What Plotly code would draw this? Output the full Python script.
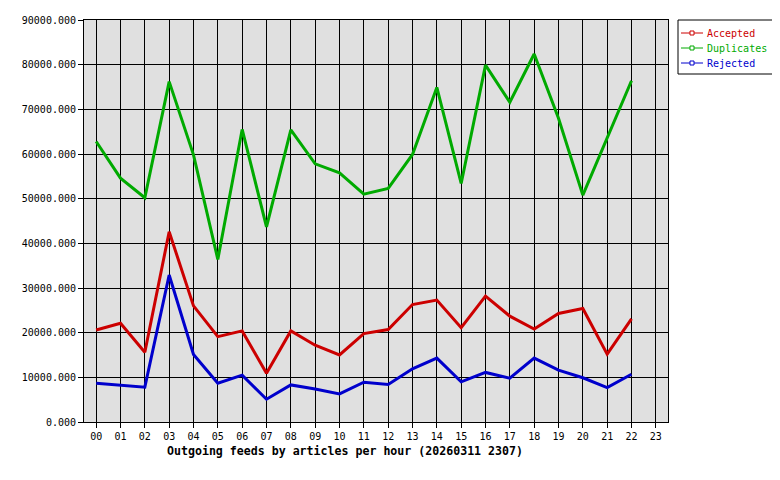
import plotly.graph_objects as go

hours = ["%02d" % h for h in range(24)]

accepted = [20600, 22100, 15600, 42600, 26000, 19100, 20400, 10900, 20400, 17200,
            15000, 19800, 20700, 26300, 27300, 21100, 28200, 23700, 20800, 24300,
            25400, 15200, 23100]
duplicates = [62800, 54600, 50200, 76200, 59800, 36400, 65500, 43700, 65400, 57800,
              55800, 51000, 52300, 59900, 74900, 53400, 79900, 71600, 82400, 68000,
              50800, 63700, 76400]
rejected = [8700, 8300, 7800, 32900, 15100, 8700, 10500, 5100, 8300, 7400,
            6300, 8900, 8400, 11900, 14300, 9000, 11100, 9800, 14300, 11600,
            9900, 7700, 10700]

series = [
    ("Accepted", accepted, "#cc0000"),
    ("Duplicates", duplicates, "#00aa00"),
    ("Rejected", rejected, "#0000cc"),
]

MONO = "DejaVu Sans Mono"
OFF = 8  # default body margin of the html page
W, H = 780 - OFF, 480 - OFF
# plot area in page pixels: x 84..668, y 20..422
L, T = 84 - OFF, 20 - OFF
PW, PH = 584, 402
R, B = W - L - PW, H - T - PH


def px(x, y):
    # page pixel position -> paper coords
    return (x - OFF - L) / PW, (T + PH - (y - OFF)) / PH


fig = go.Figure()
for name, vals, color in series:
    fig.add_trace(go.Scatter(x=hours[:len(vals)], y=vals, mode="lines", name=name,
                             line=dict(color=color, width=3),
                             showlegend=False, hoverinfo="x+y"))

# hand-drawn legend box
shapes = []
annotations = []
x0, y0 = px(678, 20)
x1, y1 = px(773, 74)
shapes.append(dict(type="rect", xref="paper", yref="paper", x0=x0, y0=y0, x1=x1, y1=y1,
                   line=dict(color="black", width=1), fillcolor="white"))
for i, (name, vals, color) in enumerate(series):
    yy = 33 + 15 * i
    a, b = px(681, yy)
    c, _ = px(703, yy)
    shapes.append(dict(type="line", xref="paper", yref="paper", x0=a, y0=b, x1=c, y1=b,
                       line=dict(color=color, width=1)))
    m0, n0 = px(690, yy - 2)
    m1, n1 = px(694, yy + 2)
    shapes.append(dict(type="rect", xref="paper", yref="paper", x0=m0, y0=n0, x1=m1, y1=n1,
                       line=dict(color=color, width=1), fillcolor="white"))
    tx, ty = px(705, yy)
    annotations.append(dict(text=name, xref="paper", yref="paper", x=tx, y=ty,
                            xanchor="left", yanchor="middle", showarrow=False,
                            font=dict(family=MONO, size=10, color=color)))

tx, ty = px(165, 451)
annotations.append(dict(text="<b>Outgoing feeds by articles per hour (20260311 2307)</b>",
                        xref="paper", yref="paper", x=tx, y=ty,
                        xanchor="left", yanchor="middle", showarrow=False,
                        font=dict(family=MONO, size=11.6, color="black")))

fig.update_layout(
    width=W, height=H,
    margin=dict(l=L, r=R, t=T, b=B, autoexpand=False),
    paper_bgcolor="white",
    plot_bgcolor="#e0e0e0",
    font=dict(family=MONO, size=10, color="black"),
    showlegend=False,
    xaxis=dict(type="category", categoryorder="array", categoryarray=hours,
               range=[-0.5, 23.5], showgrid=True, gridcolor="black", gridwidth=1,
               ticks="outside", ticklen=5, tickcolor="black",
               showline=True, linecolor="black", mirror=True, zeroline=False),
    yaxis=dict(range=[0, 90000], dtick=10000, tickformat=".3f",
               showgrid=True, gridcolor="black", gridwidth=1,
               ticks="outside", ticklen=5, tickcolor="black",
               showline=True, linecolor="black", mirror=True, zeroline=False),
    shapes=shapes,
    annotations=annotations,
)

fig.write_html("out.html")
